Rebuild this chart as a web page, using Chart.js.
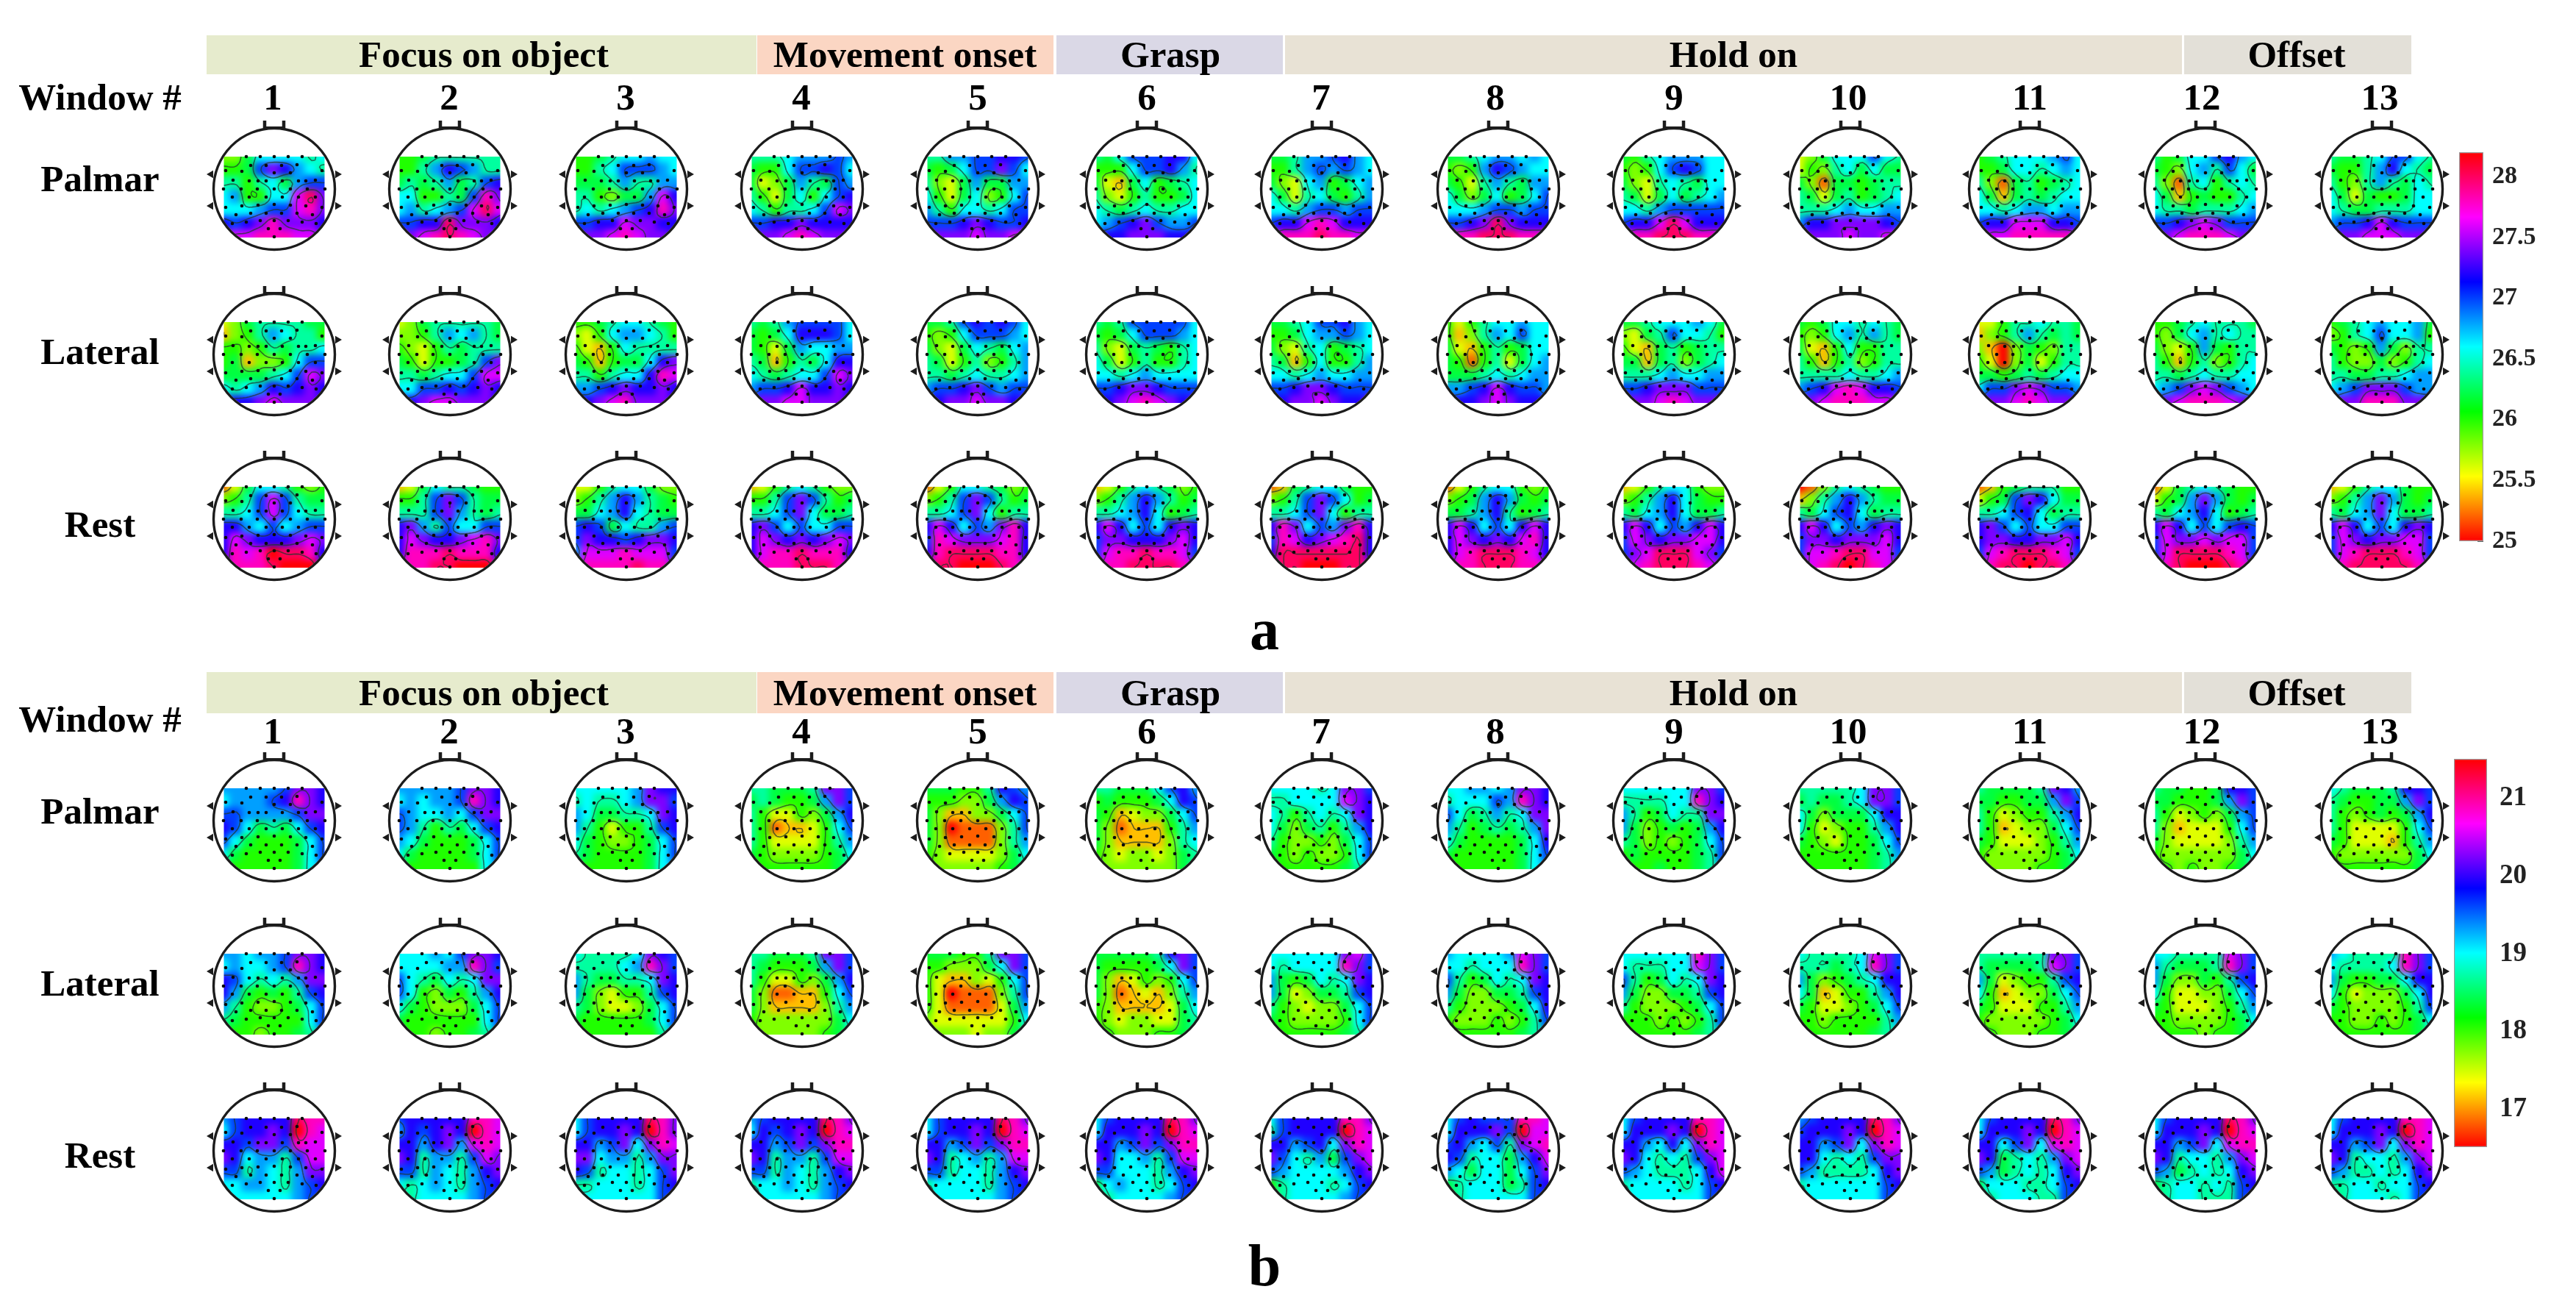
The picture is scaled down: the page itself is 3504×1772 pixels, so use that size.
<!DOCTYPE html>
<html>
<head>
<meta charset="utf-8">
<title>Topographic maps</title>
<script src="https://cdn.jsdelivr.net/npm/chart.js@4"></script>
<style>
  body { margin: 0; background: #fff; }
  #page { position: relative; width: 3504px; height: 1772px; overflow: hidden; font-family: 'Liberation Serif', serif; font-weight: bold; color: #000; }
  #page div { position: absolute; }
  #page canvas { position: absolute; }
  .txt { transform: translate(-50%, -50%); white-space: nowrap; }
</style>
</head>
<body>
<div id="page"></div>
<script>
const phaseNames = ['Focus on object', 'Movement onset', 'Grasp', 'Hold on', 'Offset'];
const phaseColors = ['#e6ebcd', '#fbd6c3', '#dad8e6', '#e8e2d5', '#e3e0d8'];
const phaseLeft = [281, 1030, 1437, 1748, 2971];
const phaseRight = [1029, 1433, 1745, 2968, 3280];
const phaseText = [658, 1231, 1592, 2358, 3124];
const windows = ['1', '2', '3', '4', '5', '6', '7', '8', '9', '10', '11', '12', '13'];
const windowText = [371, 611, 851, 1090, 1330, 1560, 1797, 2034, 2277, 2514, 2761, 2995, 3237];
const headX = [373, 612, 852, 1091, 1330, 1560, 1798, 2038, 2277, 2517, 2761, 3000, 3240];
const rowNames = ['Palmar', 'Lateral', 'Rest'];

const ticksA = [25, 25.5, 26, 26.5, 27, 27.5, 28];
const ticksB = [17, 18, 19, 20, 21];
const rangeA = [25, 28.2];
const rangeB = [16.51, 21.51];

// electrode positions, head units (centre of head = 0,0)
const elecX = [-38,-19,0,19,38,-66,-44,-32,-11,10,31,65,-22,0,22,43,-56,-34,-11,11,33,56,-69,-45,-23,0,22,45,69,-57,-34,-11,11,33,56,-66,-44,-22,0,22,43,65,-52,-32,-11,10,31,52,-57,-38,-19,0,19,38,57,-8,8,0];
const elecY = [-44,-44,-44,-44,-44,-25,-24,-32,-32,-32,-33,-25,-11,-22,-22,-11,-12,-11,-11,-11,-11,-12,0,0,0,0,0,0,0,11,11,11,11,11,11,25,23,22,21,22,23,25,35,33,33,33,33,35,47,45,43,43,43,45,47,54,54,65];
const earX = [-86, -86, 86, 86];
const earY = [-20, 23, -20, 23];
const noseX = [-13, 13];

// map grids: 7 rows of 9 samples, top to bottom, one hex-like digit each.
// 0 = bottom of the colour scale, g = top of it
const palmarA = [
  '446888878 556acb987 7757869aa 895588dfc 8889aadec babcecccb cddeeeddc',
  '556777777 5579ba977 676796 7ab 885576aec 89789adfd aabbfcccb ccdefedcc',
  '556788988 5578aaa98 666797799 7754669db 78789abec aabbdccbb bccdedccb',
  '7778999a9 6558aaba8 6346976a9 7536858ab 875778adc aabbcbbbb cccdedccc',
  '7799aabba 6568aaca8 743696699 85368458a 9758878aa aaabcbaab ccccdccdd',
  '768aaabb8 5558aab97 632685678 743575568 876787788 89abca99a bbbcccbbb',
  '66799ab98 5579a9a98 643895689 863786579 8879aa9aa abbdedbbb deeefeede',
  '667899898 5459ba988 653797699 86468568a 8889aa9aa aabcfcbbb deefffeee',
  '657899988 5458aba88 643787688 763686789 8879aaaaa abbdfdbbb deefffeee',
  '346888a87 354786866 641665677 763675678 777898899 9bbccccba ccccdccdd',
  '5678889a8 556887898 741675678 862676788 887899899 abbdddbba cddeeeeed',
  '75688ab98 654897a86 741785787 862565578 877677789 aabcdcaaa ccdeeedcc',
  '76678aa87 65579b876 754797687 863655688 876677788 9aabdbaaa bccdddccc'
];
const lateralA = [
  '346777766 245798775 554576778 5624458aa 666678adc 8789babcb abbcdcccb',
  '346777776 445798976 543576777 6535567ac 776788add 88aababcb bbcddcccb',
  '556788765 435899875 532587777 6525668bc 775788bed 99abcbbcb bbcdecccb',
  '7679aaaa8 6568bbba8 653698899 7625768bb 876788adc 9aabdbbcb bccddcccb',
  '667ababa8 5458aaa98 643687689 763574579 776787789 9aabca9aa bbccdccbc',
  '767aaaaa8 6568aaa98 743676578 863575578 887898888 aabccbaaa bbcdedcbc',
  '6678aab98 556899a98 643785678 762585579 887898899 aabccbaaa bbccdcbbc',
  '535788988 524798a88 632575688 651573689 666787899 99abdbaa9 abbcdcbbb',
  '667888986 4367a8875 532675677 662674678 777898899 aabcccaaa cccdedccc',
  '656887876 545897976 632585577 752574577 777787789 9abdedbba ccdeeeddc',
  '335778776 245797676 420465477 530463577 665676788 8aacdcaa9 bccdedccb',
  '556787776 546897877 643596577 752574578 776787788 89acdca98 bcdeeedcb',
  '567898896 4578a8895 654596477 754464578 776677899 89accca99 bcceeeccb'
];
const restA = [
  '136887545 457ada766 778ada877 bb98a89aa bdcbbbcdc bedegffeb ceeefgggc',
  '236877655 557aca766 777ac9767 bc97a88aa bdcbbcdec beeefeeeb deeffgggd',
  '335788644 4579b9765 6689b8766 aba68779a acbbabccb 9dddeddda ceeeefeec',
  '235787544 557aca756 778ac8667 bca8a88aa bdcbcbcdc bdeefeeeb deeefffed',
  '135887645 457aca756 778ac8577 bdb8a9ceb aedcccdeb beffffeeb dffgggfed',
  '235787645 4579b9756 7789b8567 bdb8a8bcb accbbbcdb adeefeeda ceeffffed',
  '126788655 457aca856 778ac8577 bec8a9ceb aedbcdefb bfffffffb dffgggffd',
  '135788545 4569b9656 6679b7567 bdb8a8bdb bdcbcbdeb bdefffedb ceefffeed',
  '235788544 4579b8655 7689b8667 bdb8a9bdb adcbccddb acdfffdca bdefffedc',
  '014787655 2479b9766 768ab8677 bdb8a9bcb accbcccdb addeffdda bdefgfedc',
  '125677755 356acb866 778ab8677 bca8a88aa bccbbccdb adefffeda beffgffec',
  '136787655 3569c9656 7689b8567 bdb8a8aba adccdcdda adffffeda befgggfec',
  '235788655 4579c9656 7689c8667 bdb8a8bcb adcbccdda adefffeda cefffffec'
];
const palmarB = [
  '99999accb 8999abecb aa9999acc ba86768ab a8655568a 86555568a 655555689',
  '99999accb 89899aecb a98898acc a975768ab 98655568a 86555568a 755555589',
  '888889cbb 787789cca 9866778cb 9753557ab 86544568a 76555568a 655555689',
  '776667cca 6765569ca 75335469b 75122358a 753333579 654444568 555555567',
  '666557ba9 5554469ba 64224468a 64011147a 641111479 543333468 544444567',
  '776668ab9 5655568ba 65234468a 641222579 642222478 543443467 544444467',
  '888878cca 778888dcb 8757878cb 86467579b 75445468a 65454458a 655555679',
  '889989ccb 7888a9ecb a867978cc 97567679c 86555568b 65555568a 555555689',
  '888888cca 777788ecb 9756877cc 96456569b 76454568a 56555567a 555655679',
  '777778cca 676678cca 8646668bb 85345579b 65435568a 555555679 655555678',
  '766667cb9 6655669ca 75345579b 75234468a 653334579 544444568 544445567',
  '766556bba 6655569ca 75345469a 74233358a 643333479 544444468 554544567',
  '876667bba 7655669ca 75456569b 75333358a 653332579 544444468 555555567'
];
const lateralB = [
  '99899accb 89889aecb ba87879cc b965657ab 97544568a 76555558a 655455679',
  '88898accb 888899eca a876878cc a8546579b 86544468a 65555558a 655455679',
  '877778cba 777789eca 9766778cb 9643557ab 76433468a 65555568a 555555579',
  '776667cca 7655569ca 75335469b 64112258a 642222479 544444468 544444567',
  '666557cca 5544468ca 53224358a 53011147a 531111369 433333358 444434467',
  '666667bca 6555568ca 64235458a 641232479 542222368 543443367 554445567',
  '888888cda 878888eca 9656878cb 9634667ab 75434468a 65444458a 555555679',
  '988889dca 887888eca a756878cb 9644667ab 75444568b 54445457a 555555679',
  '888888eca 877788dca a756878cb 9644667ab 75444568a 55545457a 555555679',
  '877778dca 777678eca 9645678bb 86235579b 65334568a 554555579 555555678',
  '777777cca 766667dca 9634557ab 85234468a 653335579 544444568 554445567',
  '887777dca 976667eca 9644657ab 85334468a 653334579 554444568 555545567',
  '987777eca 877778eca 9655668bb 85344468b 65444457a 554454568 555555567'
];
const restB = [
  '9abbbbfee 8abbcbged bbaccaedd cb8997add aa79879cc 8899879ab 8888889aa',
  'abbbbbeed 9babcbged bb9bc9ded cb7997adc aa79879bc 8789879ab 7788889aa',
  '8abbbbfec 8abbcbgec bb9ac8ced cc89979cc ba78878ac 7788878ab 8888888aa',
  '9abbbbfec 8babcbged bb9acacee cb7997add aa79879bc 7889879ab 6888889aa',
  '8abbbbfec 8abbcbged bb9acacee cb78979dd aa78879bc 7888879ab 7888889aa',
  '8abbbbfec 8bbbcbged bb9acacee cb8897add aa88879bc 6898878ab 6788889aa',
  '8abbbbeec 7abbbbged bb9ab8ced ca8796acd a988889bc 5788878ab 4788889aa',
  '8abaaaeed 8bbbcagdd ab98a7cde ba78869bd 9868868ac 6788867ab 5788888aa',
  '8abbbbeed 8bbbcbged bb98b8ced cb8787acd a987778bd 7888878ab 7888888aa',
  '9abbbbfec abbbcbged bb9ac8ced bb8787acc a977778bc 7888888ab 7888888aa',
  '8abbbbfec 8bbbcbged bb8ac8ded cb67879cd a967878bc 6888778ab 7788877aa',
  '8abbbbfec 8bbbcbged bb9ac8dee cb78879cd a967878bc 6788787ab 6788777aa',
  '8abbbbeed 8bbbcbged bb9ac8ced cb78879cd a977878bc 7788788ab 6788878aa'
];

const panels = [
  { rows: [palmarA, lateralA, restA], range: rangeA, y: [257, 482, 706] },
  { rows: [palmarB, lateralB, restB], range: rangeB, y: [1116, 1341, 1565] }
];

const page = document.getElementById('page');

function addText(text, x, y, size) {
  const d = document.createElement('div');
  d.className = 'txt';
  d.textContent = text;
  d.style.left = x + 'px';
  d.style.top = y + 'px';
  d.style.fontSize = size + 'px';
  page.appendChild(d);
}

function addBand(x0, x1, y0, y1, color) {
  const d = document.createElement('div');
  d.style.left = x0 + 'px';
  d.style.width = (x1 - x0) + 'px';
  d.style.top = y0 + 'px';
  d.style.height = (y1 - y0) + 'px';
  d.style.background = color;
  page.appendChild(d);
}

function addCanvas(x, y, w, h) {
  const c = document.createElement('canvas');
  c.width = w;
  c.height = h;
  c.style.left = x + 'px';
  c.style.top = y + 'px';
  c.style.width = w + 'px';
  c.style.height = h + 'px';
  page.appendChild(c);
  return c;
}

function hueColor(t) {
  return 'hsl(' + (t * 360) + ',100%,50%)';
}

// one string -> 7 rows of 9 values in the panel's own units
function readGrid(str, range) {
  const chars = str.replace(/\s/g, '').split('');
  return chars.map(ch => range[0] + parseInt(ch, 17) / 16 * (range[1] - range[0]));
}

const gridCols = [-68.5, -51.4, -34.25, -17.1, 0, 17.1, 34.25, 51.4, 68.5];
const gridRows = [-44, -25.7, -7.3, 11, 29.3, 47.7, 66];
const contourLevels = [2, 4.6, 7.2, 9.8, 12.4, 15];

function clipHead(chart, ctx) {
  const xs = chart.scales.x, ys = chart.scales.y;
  ctx.beginPath();
  ctx.arc(xs.getPixelForValue(0), ys.getPixelForValue(0), 81, 0, Math.PI * 2);
  ctx.clip();
  ctx.beginPath();
  ctx.rect(xs.getPixelForValue(-68.5), ys.getPixelForValue(-44), 137, 110);
  ctx.clip();
}

// catmull-rom through the samples, only used to round the contour lines
function cr(a, b, c, d, t) {
  return 0.5 * (2 * b + (c - a) * t + (2 * a - 5 * b + 4 * c - d) * t * t + (3 * b - a - 3 * c + d) * t * t * t);
}

function fineGrid(vals) {
  const f = 4, nc = 9, nr = 7, out = [];
  const at = (r, c) => vals[Math.max(0, Math.min(nr - 1, r)) * nc + Math.max(0, Math.min(nc - 1, c))];
  for (let r = 0; r <= (nr - 1) * f; r++) {
    const row = [], r0 = Math.floor(r / f), rt = r / f - r0;
    for (let c = 0; c <= (nc - 1) * f; c++) {
      const c0 = Math.floor(c / f), ct = c / f - c0, col = [];
      for (let k = -1; k <= 2; k++) {
        col.push(cr(at(r0 + k, c0 - 1), at(r0 + k, c0), at(r0 + k, c0 + 1), at(r0 + k, c0 + 2), ct));
      }
      row.push(cr(col[0], col[1], col[2], col[3], rt));
    }
    out.push(row);
  }
  return out;
}

function drawContours(chart, vals, range) {
  const ctx = chart.ctx, xs = chart.scales.x, ys = chart.scales.y;
  const g = fineGrid(vals);
  const px = c => xs.getPixelForValue(-68.5 + 137 * c / (g[0].length - 1));
  const py = r => ys.getPixelForValue(-44 + 110 * r / (g.length - 1));
  ctx.save();
  clipHead(chart, ctx);
  ctx.strokeStyle = 'rgba(30,55,45,0.72)';
  ctx.lineWidth = 1.6;
  ctx.beginPath();
  contourLevels.forEach(l => {
    const lv = range[0] + l / 16 * (range[1] - range[0]);
    for (let r = 0; r < g.length - 1; r++) {
      for (let c = 0; c < g[0].length - 1; c++) {
        const v = [g[r][c], g[r][c + 1], g[r + 1][c + 1], g[r + 1][c]];
        const p = [];
        const edge = (a, b, ax, ay, bx, by) => {
          if ((a < lv) !== (b < lv)) {
            const t = (lv - a) / (b - a);
            p.push([px(ax + (bx - ax) * t), py(ay + (by - ay) * t)]);
          }
        };
        edge(v[0], v[1], c, r, c + 1, r);
        edge(v[1], v[2], c + 1, r, c + 1, r + 1);
        edge(v[2], v[3], c + 1, r + 1, c, r + 1);
        edge(v[3], v[0], c, r + 1, c, r);
        for (let i = 0; i + 1 < p.length; i += 2) {
          ctx.moveTo(p[i][0], p[i][1]);
          ctx.lineTo(p[i + 1][0], p[i + 1][1]);
        }
      }
    }
  });
  ctx.stroke();
  ctx.restore();
}

// the cells are drawn square, then softened and cut to the head shape
const softMap = {
  id: 'softMap',
  afterDatasetDraw(chart, args, opts) {
    if (args.index !== 0) return;
    const c = chart.canvas, ctx = chart.ctx;
    const tmp = document.createElement('canvas');
    tmp.width = c.width;
    tmp.height = c.height;
    const t = tmp.getContext('2d');
    t.filter = 'blur(5px)';
    t.drawImage(c, 0, 0);
    ctx.save();
    ctx.setTransform(1, 0, 0, 1, 0, 0);
    ctx.clearRect(0, 0, c.width, c.height);
    clipHead(chart, ctx);
    ctx.drawImage(tmp, 0, 0);
    ctx.restore();
    drawContours(chart, opts.vals, opts.range);
  }
};

function drawMap(cx, cy, str, range) {
  const size = 190;
  const canvas = addCanvas(cx - size / 2, cy - size / 2, size, size);
  const vals = readGrid(str, range);
  const cells = [];
  vals.forEach((v, i) => {
    cells.push({ x: gridCols[i % 9], y: gridRows[Math.floor(i / 9)], v: v });
  });
  const elec = elecX.map((x, i) => ({ x: x, y: elecY[i] }));
  const ears = earX.map((x, i) => ({ x: x, y: earY[i] }));
  new Chart(canvas, {
    type: 'scatter',
    data: {
      datasets: [
        {
          data: cells,
          order: 9,
          clip: false,
          pointStyle: 'rect',
          pointRadius: 15,
          pointBorderWidth: 0,
          pointBackgroundColor: ctx => hueColor((ctx.raw.v - range[0]) / (range[1] - range[0]))
        },
        {
          data: [{ x: 0, y: 0 }],
          order: 3,
          clip: false,
          pointRadius: 82.5,
          pointBackgroundColor: 'rgba(0,0,0,0)',
          pointBorderColor: '#1c1c1c',
          pointBorderWidth: 3.4
        },
        {
          data: ears,
          order: 3,
          clip: false,
          pointStyle: 'triangle',
          pointRadius: 6,
          pointBackgroundColor: '#1c1c1c',
          pointBorderWidth: 0,
          pointRotation: ctx => ctx.raw.x < 0 ? -90 : 90
        },
        {
          data: noseX.map(x => ({ x: x, y: -87 })),
          order: 3,
          clip: false,
          pointStyle: 'line',
          pointRadius: 6,
          pointBorderColor: '#1c1c1c',
          pointBorderWidth: 4.5,
          pointRotation: 90
        },
        {
          data: noseX.map(x => ({ x: x, y: -83.5 })),
          order: 3,
          clip: false,
          showLine: true,
          borderColor: '#1c1c1c',
          borderWidth: 3,
          pointRadius: 0
        },
        {
          data: elec,
          order: 1,
          clip: false,
          pointRadius: 2.3,
          pointBackgroundColor: '#0a0a0a',
          pointBorderWidth: 0
        }
      ]
    },
    options: {
      responsive: false,
      animation: false,
      events: [],
      layout: { padding: 0, autoPadding: false },
      plugins: { legend: { display: false }, tooltip: { enabled: false }, softMap: { vals: vals, range: range } },
      scales: {
        x: { type: 'linear', display: false, min: -95, max: 95 },
        y: { type: 'linear', display: false, min: -95, max: 95, reverse: true }
      }
    },
    plugins: [softMap]
  });
}

function drawBar(left, top, bottom, barW, range, ticks, fontSize, gap) {
  const pad = 26;
  const canvas = addCanvas(left, top - pad, barW + 125, bottom - top + pad * 2);
  new Chart(canvas, {
    type: 'bar',
    data: {
      labels: [''],
      datasets: [{
        data: [[range[0], range[1]]],
        barPercentage: 1,
        categoryPercentage: 1,
        borderColor: '#9a9a9a',
        borderWidth: 1.5,
        borderSkipped: false,
        backgroundColor: ctx => {
          const a = ctx.chart.chartArea;
          if (!a) return '#f00';
          const g = ctx.chart.ctx.createLinearGradient(0, a.bottom, 0, a.top);
          [0, 1, 2, 3, 4, 5, 6].forEach(i => g.addColorStop(i / 6, hueColor(i / 6)));
          return g;
        }
      }]
    },
    options: {
      responsive: false,
      animation: false,
      events: [],
      layout: { padding: { top: pad, bottom: pad, left: 0, right: 0 } },
      plugins: { legend: { display: false }, tooltip: { enabled: false } },
      scales: {
        x: { display: false },
        y: {
          position: 'right',
          min: range[0],
          max: range[1],
          afterBuildTicks: axis => { axis.ticks = ticks.map(v => ({ value: v })); },
          afterFit: axis => { axis.width = 125; axis.paddingTop = 0; axis.paddingBottom = 0; },
          border: { display: false },
          grid: { drawOnChartArea: false, tickLength: -8, color: '#666', lineWidth: 2 },
          ticks: {
            autoSkip: false,
            padding: gap + 8,
            color: '#222',
            font: { family: 'Liberation Serif', weight: 'bold', size: fontSize },
            callback: v => String(v)
          }
        }
      }
    }
  });
}

// headers
[[48, 101, 74, 132, 132], [914, 970, 942, 994, 978]].forEach(h => {
  phaseNames.forEach((name, i) => {
    addBand(phaseLeft[i], phaseRight[i], h[0], h[1], phaseColors[i]);
    addText(name, phaseText[i], h[2], 51);
  });
  windows.forEach((w, i) => addText(w, windowText[i], h[3], 51));
  addText('Window #', 136, h[4], 51);
});

rowNames.forEach((name, i) => {
  addText(name, 136, [243, 478, 713][i], 51);
  addText(name, 136, [1103, 1337, 1571][i], 51);
});
addText('a', 1720, 856, 80);
addText('b', 1720, 1721, 80);

panels.forEach(p => {
  p.rows.forEach((row, r) => {
    row.forEach((str, w) => drawMap(headX[w], p.y[r], str, p.range));
  });
});

drawBar(3345, 207, 736, 33, rangeA, ticksA, 34, 12);
drawBar(3338, 1032, 1560, 45, rangeB, ticksB, 37, 17);
</script>
</body>
</html>
